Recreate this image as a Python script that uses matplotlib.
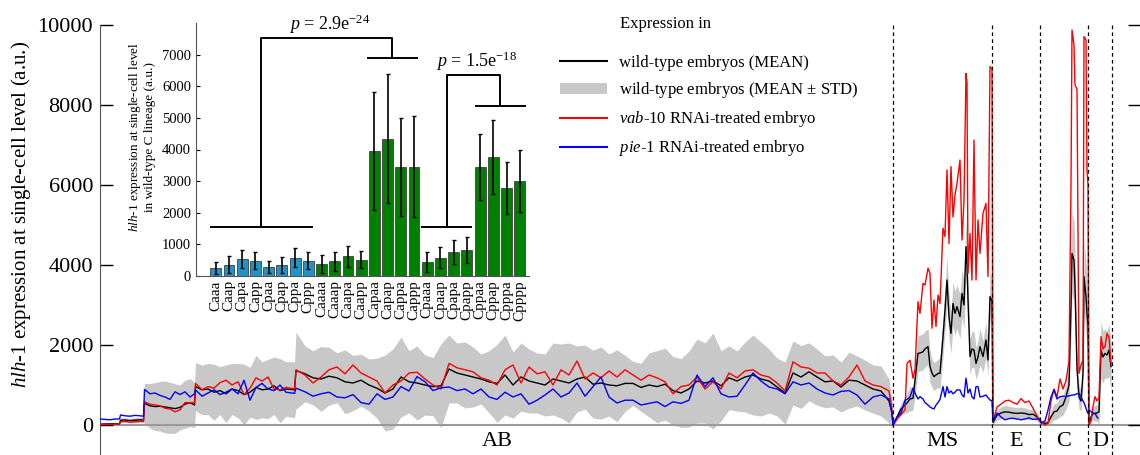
import numpy as np
import matplotlib
matplotlib.use('Agg')
from matplotlib import pyplot as plt
from matplotlib.lines import Line2D
from matplotlib.patches import Patch

plt.rcParams['font.family'] = 'Liberation Serif'
plt.rcParams['mathtext.fontset'] = 'custom'
plt.rcParams['mathtext.rm'] = 'Liberation Serif'
plt.rcParams['mathtext.it'] = 'Liberation Serif:italic'
plt.rcParams['mathtext.bf'] = 'Liberation Serif:bold'

#==================
# MAIN PANEL DATA  (x = position along the lineage, y = hlh-1 expression)
#==================
# AB lineage
ab_x = [0, 5, 10, 15, 19.5,
        20.5, 25, 30, 35, 40, 43.5,
        44.5, 50, 55, 60, 65, 70, 75, 80, 85, 90, 94.5,
        95.5, 102, 108, 114, 120, 126, 132, 138, 144, 150, 156, 162, 168, 174, 180, 186, 194.5,
        196, 205, 213, 221, 229, 237, 245, 253, 261,
        269, 277, 285, 293, 301, 309, 317, 325, 333, 341, 349, 357, 365, 373, 381, 389, 397,
        405, 413, 421, 429, 437, 445, 453, 461, 469, 477, 485, 493, 501, 509, 517, 525,
        533, 541, 549, 557, 565, 573, 581, 589, 597, 605, 613, 621, 629, 637, 645, 653, 661,
        669, 677, 685, 693, 701, 709, 717, 725, 733, 741, 749, 757, 765, 773, 781, 789,
        792]
ab_mean = [20, 25, 30, 30, 30,
           120, 125, 110, 120, 130, 120,
           540, 480, 460, 470, 450, 430, 410, 440, 520, 560, 500,
           960, 880, 900, 820, 860, 780, 900, 860, 760, 820, 940, 880, 900, 980, 860, 900, 880,
           1360, 1280, 1180, 1150, 1220, 1180, 1080, 1050, 1120,
           1000, 920, 800, 900, 1200, 1080, 1050, 1000, 960, 980, 1400, 1300, 1250, 1200, 1150, 1080, 1040,
           1250, 1000, 1200, 1100, 1050, 1000, 1150, 1100, 1050, 1150, 1200, 1020, 1050, 1000, 980, 1040,
           1040, 940, 1000, 960, 1020, 860, 800, 900, 1100, 1050, 1100, 980, 1180, 1100, 1200, 1250, 1150,
           1100, 950, 800, 1300, 1200, 1330, 1200, 1080, 1100, 950, 1120, 1100, 1000, 900, 850, 600,
           300]
ab_std = [30, 30, 30, 30, 30,
          60, 55, 60, 65, 60, 60,
          500, 560, 600, 620, 650, 640, 620, 560, 600, 600, 560,
          600, 620, 640, 700, 600, 720, 640, 680, 760, 620, 800, 700, 740, 720, 800, 680, 700,
          960, 700, 675, 810, 725, 625, 800, 690, 650,
          650, 750, 950, 1000, 1000, 775, 925, 750, 725, 1050, 850, 750, 825, 750, 625, 775, 975,
          1000, 825, 850, 800, 750, 775, 900, 925, 1000, 825, 800, 850, 900, 775, 900, 700,
          550, 600, 800, 900, 900, 850, 860, 950, 1050, 1000, 1200, 875, 800, 750, 875, 1000, 925,
          800, 725, 775, 800, 785, 725, 700, 650, 650, 625, 700, 625, 625, 600, 625, 550,
          350]
ab_vab10 = [10, 20, 20, 20, 30,
            80, 90, 70, 80, 90, 90,
            580, 520, 500, 480, 420, 400, 330, 380, 560, 560, 560,
            1040, 880, 960, 920, 1060, 1120, 1000, 1080, 760, 920, 1180, 1100, 1200, 900, 880, 940, 900,
            1380, 1250, 1050, 1200, 1380, 1450, 1280, 1500, 1300,
            1200, 1100, 800, 1000, 1100, 1300, 1320, 1150, 1000, 900, 1540, 1430, 1380, 1330, 1180, 1120, 1000,
            1380, 1500, 1050, 1450, 1280, 1330, 1000, 1380, 1250, 1600, 1150, 1300, 1180, 1350, 1200, 1380,
            1250, 1120, 1250, 1180, 1080, 780, 960, 1000, 1200, 900, 1080, 900, 1300, 1180, 1350, 1380, 1250,
            1200, 1050, 850, 1580, 1450, 1420, 1300, 1300, 1100, 1000, 1200, 1500, 1100, 1000, 960, 850,
            400]
ab_pie1 = [150, 140, 130, 150, 150,
           250, 230, 220, 240, 230, 220,
           890, 780, 800, 740, 700, 640, 830, 760, 830, 700, 780,
           880, 720, 800, 880, 760, 820, 900, 780, 1120, 620, 940, 1040, 900, 860, 1000, 820, 790,
           920, 830, 720, 780, 820, 700, 680, 760, 560,
           520, 780, 640, 700, 960, 850, 1210, 1080, 860, 930, 950, 860, 900, 780, 900, 700, 640,
           820, 700, 780, 520, 620, 750, 900, 700, 800, 1050, 720, 960, 1200, 700, 550, 620,
           620, 500, 540, 580, 460, 580, 540, 620, 1250, 960, 1180, 780, 700, 720, 1000, 1300, 1100,
           950, 900, 780, 1080, 1000, 1050, 900, 800, 750, 840, 860, 750, 520, 700, 750, 650,
           300]

# MS lineage
ms_x = [793, 797, 801, 805, 807, 810, 813, 815, 818, 820, 823, 825, 828, 830, 832, 834, 836, 838, 840,
        843, 845, 847, 849, 851, 853, 855, 857, 860, 862, 864, 866, 867, 868, 870, 872, 874, 876, 878,
        880, 883, 886, 888, 890, 892]
ms_mean = [0, 200, 400, 500, 550, 650, 670, 1125, 1790, 1800, 1830, 1900, 1960, 1460, 1300, 1210, 1250,
           1290, 1290, 2210, 2875, 3625, 2710, 2290, 3040, 2790, 2960, 2710, 3290, 3000, 4460, 4000, 3125,
           1710, 1900, 1875, 1540, 1700, 1960, 1710, 2125, 1625, 3210, 3100]
ms_std = [30, 100, 150, 200, 250, 300, 300, 400, 450, 450, 450, 450, 450, 400, 350, 350, 350, 350, 400,
          500, 550, 600, 550, 500, 550, 550, 550, 550, 600, 600, 700, 650, 600, 450, 450, 450, 400, 400,
          450, 400, 450, 400, 600, 600]
ms_vab10 = [0, 150, 260, 380, 1540, 1620, 1170, 1380, 3080, 2790, 3540, 3500, 3920, 3790, 2420, 3125, 2460,
            3250, 3040, 4920, 4710, 6375, 4540, 6460, 5200, 5750, 6040, 6625, 4625, 5625, 8790, 8540, 3790,
            4790, 3625, 7125, 3625, 5125, 4290, 5290, 5540, 3710, 8960, 8900]
ms_pie1 = [0, 200, 300, 620, 640, 700, 920, 800, 650, 710, 650, 560, 500, 450, 420, 400, 500, 560, 640,
           960, 700, 960, 800, 850, 780, 820, 880, 875, 750, 700, 1170, 1000, 800, 900, 700, 650, 960, 960,
           700, 720, 750, 680, 625, 600]

# E lineage
e_x = [893, 897, 901, 905, 909, 913, 917, 921, 925, 929, 933, 937, 940]
e_mean = [60, 250, 300, 330, 320, 300, 290, 300, 290, 260, 270, 200, 100]
e_std = [60, 120, 150, 160, 150, 150, 140, 150, 140, 130, 120, 100, 80]
e_vab10 = [100, 450, 520, 600, 620, 560, 520, 660, 560, 600, 420, 220, 100]
e_pie1 = [100, 300, 200, 130, 160, 170, 150, 130, 150, 180, 140, 150, 150]

# C lineage
c_x = [941, 945, 948, 951, 954, 957, 960, 963, 966, 969, 971, 972, 974, 975, 977, 979, 981, 983, 984,
       986, 987, 988]
c_mean = [60, 40, 60, 200, 330, 350, 460, 500, 700, 1000, 3000, 4290, 4120, 3460, 1400, 700, 600, 1290,
          3710, 3210, 2790, 2500]
c_std = [40, 40, 60, 150, 200, 200, 250, 250, 300, 400, 800, 1000, 1000, 900, 500, 300, 250, 400, 900,
         900, 800, 700]
c_vab10 = [60, 0, 40, 600, 900, 700, 1150, 900, 1100, 1600, 6000, 9875, 9500, 8500, 8400, 1290, 1500,
           1625, 9710, 9625, 6375, 6000]
c_pie1 = [60, 100, 375, 700, 875, 650, 710, 720, 710, 730, 740, 750, 750, 760, 780, 790, 700, 600, 560,
          420, 350, 290]

# D lineage
d_x = [989, 991, 993, 995, 997, 999, 1001, 1003, 1005, 1007, 1009, 1011]
d_mean = [30, 200, 280, 290, 300, 330, 1875, 1700, 1790, 1750, 1875, 1460]
d_std = [50, 100, 150, 200, 200, 300, 700, 650, 600, 600, 650, 600]
d_vab10 = [0, 100, 460, 710, 600, 680, 2210, 1900, 1960, 2290, 2200, 1540]
d_pie1_x = [989, 991, 993, 995, 997, 998]
d_pie1 = [375, 330, 300, 290, 200, 170]

lineage_bounds = [793, 892, 940, 988, 1012]
lineage_names = ['AB', 'MS', 'E', 'C', 'D']
lineage_label_x = [397, 842, 916, 964, 1000]

#==================
# INSET DATA  (wild-type C lineage cells)
#==================
cells = ['Caaa', 'Caap', 'Capa', 'Capp', 'Cpaa', 'Cpap', 'Cppa', 'Cppp',
         'Caaaa', 'Caaap', 'Caapa', 'Caapp', 'Capaa', 'Capap', 'Cappa', 'Cappp',
         'Cpaaa', 'Cpaap', 'Cpapa', 'Cpapp', 'Cppaa', 'Cppap', 'Cpppa', 'Cpppp']
cell_mean = [250, 360, 540, 480, 280, 355, 580, 490,
             365, 460, 620, 520, 3960, 4340, 3450, 3460,
             450, 580, 760, 820, 3440, 3760, 2790, 3010]
cell_std = [180, 260, 280, 270, 200, 250, 300, 280,
            285, 300, 320, 260, 1870, 2040, 1550, 1600,
            310, 330, 390, 400, 1040, 1170, 830, 990]
n_blue = 8

X = np.concatenate([ab_x, ms_x, e_x, c_x, d_x])
M = np.concatenate([ab_mean, ms_mean, e_mean, c_mean, d_mean])
S = np.concatenate([ab_std, ms_std, e_std, c_std, d_std])
R = np.concatenate([ab_vab10, ms_vab10, e_vab10, c_vab10, d_vab10])
XB = np.concatenate([ab_x, ms_x, e_x, c_x, d_pie1_x])
B = np.concatenate([ab_pie1, ms_pie1, e_pie1, c_pie1, d_pie1])

fig = plt.figure(figsize=(11.4, 4.55), dpi=100)
ax = fig.add_axes([100/1140, 0, 1040/1140, 430/455])

ax.fill_between(X, M - S, M + S, color='#c8c8c8', lw=0, zorder=1)
ax.axhline(0, color='#9a9a9a', lw=1.5, zorder=1.5)
ax.plot(X, M, color='k', lw=1, zorder=2)
ax.plot(X, R, color='r', lw=1, zorder=3)
ax.plot(XB, B, color='b', lw=1, zorder=4)
for b in lineage_bounds:
    ax.axvline(b, color='k', ls=(0, (3, 2.5)), lw=0.9, zorder=5)
for name, lx in zip(lineage_names, lineage_label_x):
    ax.text(lx, -400, name, ha='center', va='center', fontsize=16)

ax.set_xlim(0, 1040)
ax.set_ylim(-750, 10000)
ax.set_xticks([])
ax.set_yticks(range(0, 10001, 2000))
ax.tick_params(axis='y', direction='in', length=9, width=1, labelsize=16, right=True, pad=5)
for s in ['top', 'bottom', 'right']:
    ax.spines[s].set_visible(False)
ax.spines['left'].set_color('#555555')
ax.set_ylabel(r'$\mathit{hlh}$-$\mathit{1}$ expression at single-cell level (a.u.)', fontsize=15)
ax.yaxis.set_label_coords(-0.064, 0.56)

# legend
fig.text(620/1140, 1 - 24/455, 'Expression in', fontsize=12, va='center', ha='left')
handles = [Line2D([], [], color='k', lw=1.5),
           Patch(facecolor='#c8c8c8', edgecolor='none'),
           Line2D([], [], color='r', lw=1.5),
           Line2D([], [], color='b', lw=1.5)]
labels = ['wild-type embryos (MEAN)',
          'wild-type embryos (MEAN $\\pm$ STD)',
          r'$\mathit{vab}$-$\mathit{10}$ RNAi-treated embryo',
          r'$\mathit{pie}$-$\mathit{1}$ RNAi-treated embryo']
fig.legend(handles, labels, loc='upper left', bbox_to_anchor=(560/1140, 1 - 55/455),
           frameon=False, fontsize=12, handlelength=2.8, handletextpad=0.75,
           labelspacing=0.55, borderpad=0, borderaxespad=0)

#==========
# INSET BAR PLOT
#==========
axi = fig.add_axes([196/1140, (455 - 276)/455, 333/1140, 253/455])
colors = ['#1f95c6'] * n_blue + ['#008000'] * (len(cells) - n_blue)
pos = np.arange(len(cells))
axi.bar(pos, cell_mean, width=0.82, color=colors, edgecolor='#404040', linewidth=0.6,
        yerr=cell_std, error_kw=dict(ecolor='k', elinewidth=1.2, capsize=1.5, capthick=1))
axi.set_xlim(-1.5, 23.7)
axi.set_ylim(0, 8000)
axi.set_yticks(range(0, 7001, 1000))
axi.set_xticks(pos)
axi.set_xticklabels(cells, rotation=90, fontsize=11)
axi.tick_params(axis='y', labelsize=10.5, direction='in', length=3)
axi.tick_params(axis='x', length=0, pad=3)
axi.spines['top'].set_visible(False)
axi.spines['right'].set_visible(False)
axi.spines['left'].set_color('#555555')
axi.spines['bottom'].set_color('#555555')
axi.patch.set_alpha(0)
axi.set_ylabel('$\\mathit{hlh}$-$\\mathit{1}$ expression at single-cell level\nin wild-type C lineage (a.u.)',
               fontsize=9.5, linespacing=1.1)
axi.yaxis.set_label_coords(-0.12, 0.55)

# significance brackets
bk = dict(color='k', lw=1.4, clip_on=False)
axi.plot([-0.35, 7.3], [1560, 1560], **bk)
axi.plot([3.43, 3.43, 13.3, 13.3], [1560, 7520, 7520, 6880], **bk)
axi.plot([11.5, 15.2], [6880, 6880], **bk)
axi.plot([15.64, 19.3], [1560, 1560], **bk)
axi.plot([17.5, 17.5, 21.5, 21.5], [1560, 6350, 6350, 5360], **bk)
axi.plot([19.67, 23.4], [5360, 5360], **bk)
axi.text(8.6, 7960, r'$p$ = 2.9e$^{-24}$', ha='center', va='center', fontsize=13)
axi.text(19.7, 6800, r'$p$ = 1.5e$^{-18}$', ha='center', va='center', fontsize=13)

fig.savefig('out.png', dpi=100)
